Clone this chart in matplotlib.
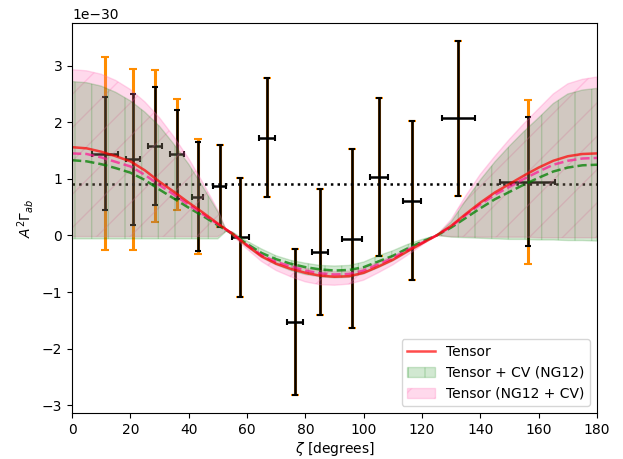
import numpy as np
import matplotlib
matplotlib.use("Agg")
import matplotlib.pyplot as plt
from matplotlib.lines import Line2D
from matplotlib.patches import Patch

SCALE = 1e-30

# ---- data points (angular bins) ----
pt_zeta = [11.3, 20.9, 28.5, 36.0, 43.1, 50.6, 57.7, 66.85, 76.45, 85.0, 95.9, 105.2, 116.6, 132.5, 156.3]
pt_val = [1.446, 1.346, 1.58, 1.434, 0.688, 0.877, -0.03, 1.728, -1.534, -0.288, -0.058, 1.029, 0.617, 2.07, 0.952]
pt_xerr = [4.45, 2.3, 2.4, 2.45, 1.95, 2.1, 2.85, 2.85, 2.8, 2.85, 3.5, 3.2, 3.2, 5.6, 9.4]
pt_yerr = [1.0, 1.16, 1.04, 0.785, 0.96, 0.72, 1.05, 1.05, 1.29, 1.11, 1.58, 1.40, 1.40, 1.37, 1.14]
pt_yerr_tot = [1.71, 1.6, 1.35, 0.98, 1.01, 0.73, 1.05, 1.05, 1.29, 1.11, 1.58, 1.40, 1.40, 1.37, 1.45]

hline_val = 0.905

# ---- model curves ----
zeta = [0, 5, 10, 15, 20, 25, 30, 35, 40, 45, 50, 53, 55, 60, 65, 70, 75, 80, 85, 90,
        95, 100, 105, 110, 115, 120, 125, 130, 135, 140, 145, 150, 155, 160, 165, 170, 175, 180]
tensor = [1.56, 1.54, 1.48, 1.40, 1.31, 1.15, 0.95, 0.77, 0.58, 0.40, 0.21, 0.10, 0.03, -0.18,
          -0.37, -0.50, -0.59, -0.66, -0.71, -0.73, -0.72, -0.66, -0.55, -0.43, -0.28, -0.14,
          0.00, 0.17, 0.38, 0.58, 0.76, 0.91, 1.06, 1.20, 1.32, 1.40, 1.44, 1.45]
pink_mean = [1.45, 1.44, 1.38, 1.30, 1.22, 1.07, 0.89, 0.72, 0.54, 0.37, 0.20, 0.10, 0.03, -0.17,
             -0.35, -0.47, -0.55, -0.62, -0.67, -0.69, -0.68, -0.62, -0.51, -0.40, -0.26, -0.13,
             0.00, 0.16, 0.36, 0.55, 0.72, 0.86, 1.00, 1.13, 1.25, 1.32, 1.36, 1.37]
green_mean = [1.33, 1.31, 1.26, 1.19, 1.11, 0.98, 0.81, 0.65, 0.49, 0.34, 0.18, 0.09, 0.03, -0.15,
              -0.31, -0.42, -0.50, -0.56, -0.60, -0.62, -0.61, -0.56, -0.46, -0.36, -0.23, -0.11,
              0.00, 0.14, 0.31, 0.48, 0.64, 0.77, 0.90, 1.02, 1.13, 1.20, 1.24, 1.25]
pink_hi = [2.93, 2.91, 2.85, 2.74, 2.58, 2.36, 2.08, 1.74, 1.36, 0.92, 0.45, 0.08, 0.06, -0.15,
           -0.33, -0.45, -0.52, -0.58, -0.62, -0.64, -0.63, -0.57, -0.47, -0.36, -0.23, -0.11,
           0.00, 0.28, 0.70, 1.08, 1.40, 1.70, 1.98, 2.24, 2.50, 2.68, 2.76, 2.80]
pink_lo = [-0.02, -0.02, -0.02, -0.02, -0.02, -0.02, -0.02, -0.02, -0.02, -0.02, -0.02, 0.08, 0.0, -0.24,
           -0.46, -0.62, -0.73, -0.82, -0.87, -0.88, -0.86, -0.79, -0.66, -0.52, -0.35, -0.17,
           0.00, -0.02, -0.02, -0.03, -0.03, -0.03, -0.03, -0.04, -0.04, -0.04, -0.04, -0.04]
green_hi = [2.72, 2.70, 2.64, 2.53, 2.38, 2.18, 1.93, 1.61, 1.26, 0.85, 0.42, 0.08, 0.06, -0.10,
            -0.24, -0.36, -0.44, -0.49, -0.53, -0.54, -0.53, -0.47, -0.36, -0.27, -0.16, -0.07,
            0.00, 0.24, 0.62, 0.98, 1.30, 1.58, 1.84, 2.08, 2.33, 2.50, 2.57, 2.60]
green_lo = [-0.06, -0.06, -0.06, -0.06, -0.06, -0.06, -0.06, -0.06, -0.06, -0.06, -0.06, 0.08, 0.0, -0.20,
            -0.39, -0.52, -0.62, -0.69, -0.73, -0.75, -0.74, -0.68, -0.57, -0.45, -0.30, -0.15,
            0.00, -0.03, -0.04, -0.05, -0.06, -0.07, -0.07, -0.08, -0.08, -0.09, -0.09, -0.10]

labels = ["Tensor", "Tensor + CV (NG12)", "Tensor (NG12 + CV)"]

def s(a):
    return np.asarray(a, dtype=float) * SCALE

fig = plt.figure(figsize=(6.23, 4.59), dpi=100)
ax = fig.add_axes([0.1156, 0.100, 0.8427, 0.8505])

# error bars (drawn under the bands)
ax.errorbar(pt_zeta, s(pt_val), yerr=s(pt_yerr_tot), fmt='none', ecolor='darkorange',
            elinewidth=2.2, capsize=3, capthick=1.5, zorder=1)
ax.errorbar(pt_zeta, s(pt_val), yerr=s(pt_yerr), xerr=pt_xerr, fmt='none', ecolor='black',
            elinewidth=1.8, capsize=2, capthick=1.5, zorder=1)

ax.axhline(hline_val * SCALE, color='black', ls=':', lw=1.8, zorder=1)

ax.fill_between(zeta, s(pink_lo), s(pink_hi), color='hotpink', alpha=0.25, hatch='/',
                lw=1, zorder=1)
ax.fill_between(zeta, s(green_lo), s(green_hi), color='green', alpha=0.18, hatch='|',
                lw=1, zorder=1)

ax.plot(zeta, s(green_mean), color='green', alpha=0.75, ls='--', lw=1.8, zorder=2)
ax.plot(zeta, s(pink_mean), color='deeppink', alpha=0.7, ls='--', lw=1.8, zorder=2)
ax.plot(zeta, s(tensor), color='red', alpha=0.7, lw=1.8, zorder=2)

ax.set_xlim(0, 180)
ax.set_ylim(-3.14e-30, 3.76e-30)
ax.set_xticks(np.arange(0, 181, 20))
ax.set_xlabel(r'$\zeta$ [degrees]', labelpad=2)
ax.set_ylabel(r'$A^2\Gamma_{ab}$')

handles = [
    Line2D([0], [0], color='red', alpha=0.7, lw=1.8),
    Patch(facecolor='green', edgecolor='green', alpha=0.18, hatch='|'),
    Patch(facecolor='hotpink', edgecolor='hotpink', alpha=0.25, hatch='/'),
]
ax.legend(handles, labels, loc='lower right')

fig.savefig('out.png', dpi=100)
